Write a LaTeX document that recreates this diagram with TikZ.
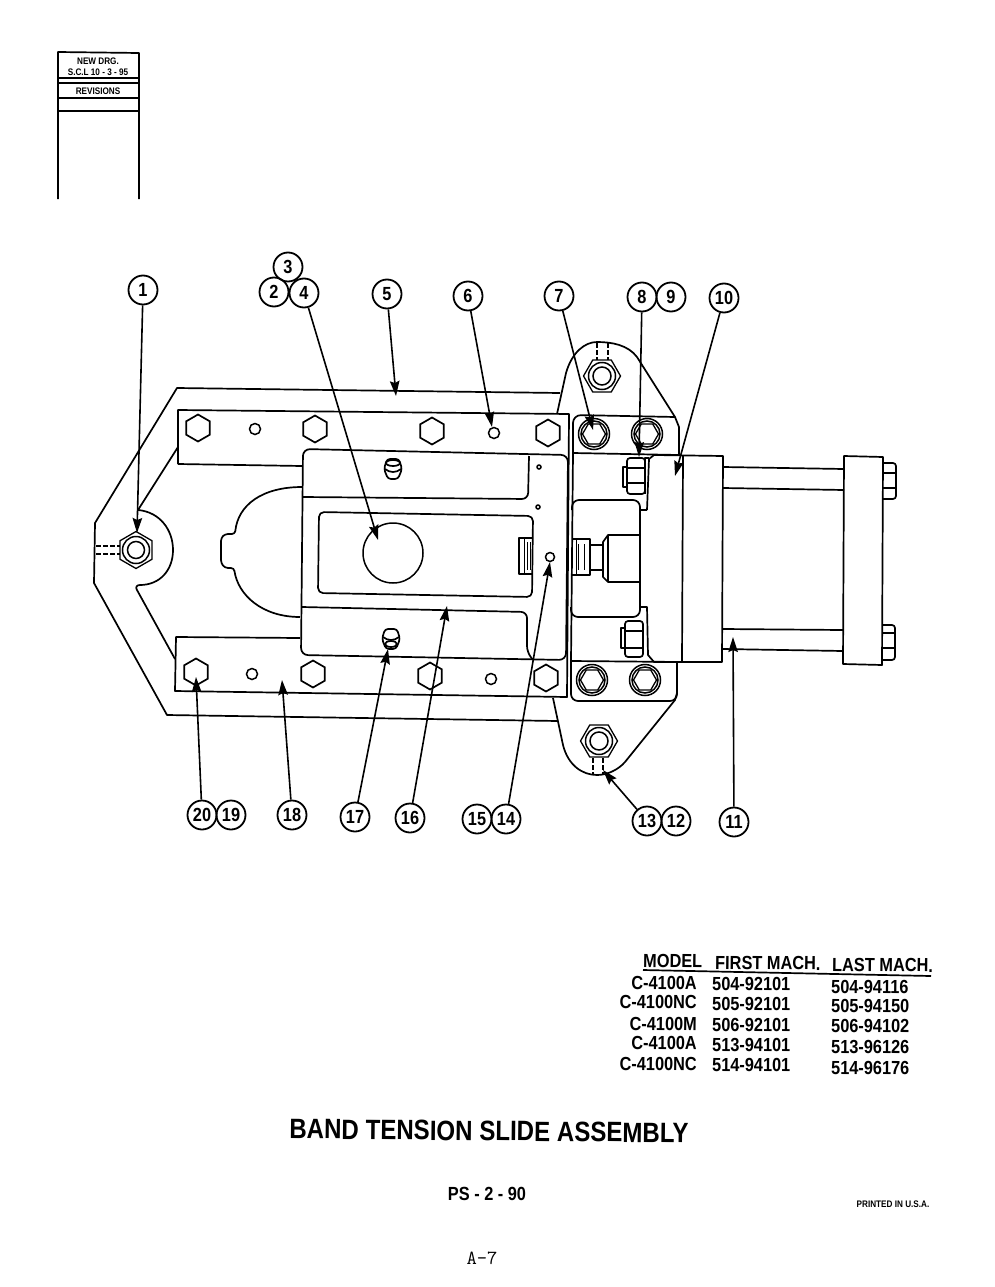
\documentclass[tikz,border=0pt]{standalone}
\usepackage{fontspec}
\setmainfont{Liberation Sans}
\newfontfamily\narrowfont{Liberation Sans}[FakeStretch=0.86]
\usetikzlibrary{shapes.geometric, arrows.meta}

\begin{document}
\begin{tikzpicture}[
    x=1pt, y=-1pt,
    part/.style={line width=1.7pt, line join=round},
    thin part/.style={line width=1pt},
    hexhead/.style={draw, line width=1.7pt, regular polygon, regular polygon sides=6, regular polygon rotate=30, minimum size=27pt, inner sep=0pt},
    sockethex/.style={draw, line width=1.3pt, regular polygon, regular polygon sides=6, minimum size=23pt, inner sep=0pt},
    nuthex/.style={draw, line width=1.3pt, regular polygon, regular polygon sides=6, minimum size=37pt, inner sep=0pt},
    ring/.style={draw, circle, line width=1.5pt, inner sep=0pt},
    callout/.style={draw, circle, line width=1.8pt, minimum size=29pt, inner sep=0pt, font=\narrowfont\bfseries\fontsize{19}{19}\selectfont},
    leader/.style={line width=1.6pt, -{Stealth[length=15pt, width=9.5pt, inset=2pt]}},
    cell/.style={inner sep=0pt, rotate=-0.6, font=\narrowfont\bfseries\fontsize{19}{19}\selectfont},
    small print/.style={inner sep=0pt, font=\narrowfont\bfseries\fontsize{9.5}{10}\selectfont}]

\useasboundingbox (0,0) rectangle (995,1287);

% Revisions block
\draw[part] (58,199) -- (58,52) -- (139,53) -- (139,199);
\draw[part] (58,78) -- (139,78);
\draw[part] (58,83) -- (139,83);
\draw[part] (58,98) -- (139,98);
\draw[part] (58,111) -- (139,111);
\node[small print] (newdrg) at (98,61) {NEW DRG.};
\node[small print] (scl) at (98,72) {S.C.L 10 - 3 - 95};
\node[small print] (revisions) at (98,91) {REVISIONS};

% Slide body
\draw[part] (560,393) -- (177,388) -- (95,523) -- (94,583) -- (167,715) -- (558,721);
\draw[part] (178,447) -- (138,510) .. controls (160,512) and (173,530) .. (173,550)
    .. controls (173,570) and (160,585) .. (140,585) .. controls (137,585) and (135,587) .. (137,590) -- (175,659);
\draw[part] (178,464) -- (178,410) -- (569,414) -- (567,697) -- (175,691) -- (176,637) -- (300,638);
\draw[part] (178,464) -- (302,466);

% Cut-out behind the slide
\draw[part, rounded corners=3pt] (302,487) .. controls (262,487) and (238,505) .. (235,534)
    -- (225,534) -- (221,538) -- (221,563) -- (225,568) -- (234,568)
    .. controls (238,595) and (262,617) .. (300,617);

% Slide
\draw[part, rounded corners=7pt] (303,449) -- (568,455) -- (566,660) -- (301,655) -- cycle;
\draw[part, rounded corners=6pt] (303,497) -- (528,499) -- (529,456);
\draw[part, rounded corners=6pt] (302,607) -- (527,612) -- (527,652) -- (533,660);
\draw[part, rounded corners=5pt] (319,512) -- (533,516) -- (532,597) -- (318,593) -- cycle;
\node[ring, minimum size=60pt] (bore) at (393,553) {};
\draw[part] (532,538) -- (519,538) -- (519,574) -- (532,574);
\draw[thin part] (524,539) -- (524,573);
\draw[thin part] (527,542) -- (527,570);
\draw[thin part] (530,542) -- (530,570);

% Plate bolts and holes
\node[hexhead] (bolta) at (198,428) {};
\node[hexhead] (boltb) at (315,429) {};
\node[hexhead] (boltc) at (432,431) {};
\node[hexhead] (boltd) at (548,433) {};
\node[hexhead] (bolte) at (196,672) {};
\node[hexhead] (boltf) at (313,674) {};
\node[hexhead] (boltg) at (430,676) {};
\node[hexhead] (bolth) at (546,678) {};
\node[ring, minimum size=11pt] (holea) at (255,429) {};
\node[ring, minimum size=11pt] (holeb) at (494,433) {};
\node[ring, minimum size=11pt] (holec) at (252,674) {};
\node[ring, minimum size=11pt] (holed) at (491,679) {};
\node[ring, minimum size=4pt] (pina) at (539,467) {};
\node[ring, minimum size=4pt] (pinb) at (538,507) {};
\node[ring, minimum size=9pt] (pinc) at (550,557) {};

% Grease fittings
\draw[part, rounded corners=3pt] (387,459) -- (399,459) -- (402,469) -- (398,479) -- (388,479) -- (384,469) -- cycle;
\draw[part] (393,463) ellipse [x radius=7pt, y radius=3pt];
\draw[part] (385,469) .. controls (390,473) and (396,473) .. (401,469);
\draw[part, rounded corners=3pt] (385,629) -- (397,629) -- (400,639) -- (396,649) -- (386,649) -- (382,639) -- cycle;
\draw[part] (391,644) ellipse [x radius=6pt, y radius=3pt];
\draw[part] (383,637) .. controls (388,641) and (394,641) .. (399,637);

% Bracket
\draw[part] (557,414) -- (566,373) .. controls (572,352) and (585,342) .. (597,342)
    .. controls (612,342) and (628,345) .. (637,357) -- (675,417) -- (679,427) -- (679,455);
\draw[part] (553,698) -- (563,745) .. controls (568,765) and (582,775) .. (597,775)
    .. controls (607,775) and (618,770) .. (625,762) -- (675,700) -- (677,693) -- (677,662);
\draw[part, rounded corners=8pt] (573,453) -- (573,415) -- (600,415.5);
\draw[part] (600,415.5) -- (675,417);
\draw[part] (573,453) -- (679,455);
\draw[part] (573,453) -- (571,661);
\draw[part, rounded corners=7pt] (571,661) -- (571,701) -- (677,701) -- (677,662);
\draw[part] (571,661) -- (682,662);
\node[nuthex] (nuttop) at (602,376) {};
\node[ring, minimum size=27pt] (nuttopa) at (602,376) {};
\node[ring, minimum size=18pt] (nuttopb) at (602,376) {};
\node[nuthex] (nutbottom) at (599,741) {};
\node[ring, minimum size=27pt] (nutbottoma) at (599,741) {};
\node[ring, minimum size=18pt] (nutbottomb) at (599,741) {};
\node[nuthex, regular polygon rotate=30] (nutleft) at (136,550) {};
\node[ring, minimum size=27pt] (nutlefta) at (136,550) {};
\node[ring, minimum size=17pt] (nutleftb) at (136,550) {};
\draw[part, dash pattern=on 5pt off 2pt] (96,546) -- (120,546);
\draw[part, dash pattern=on 5pt off 2pt] (96,554) -- (120,554);
\draw[part, dash pattern=on 5pt off 2pt] (597,343) -- (597,360);
\draw[part, dash pattern=on 5pt off 2pt] (608,343) -- (608,360);
\draw[part, dash pattern=on 5pt off 2pt] (593,758) -- (593,775);
\draw[part, dash pattern=on 5pt off 2pt] (603,758) -- (603,775);

% Socket head screws
\node[ring, minimum size=31pt] (screwa) at (594,434) {};
\node[ring, minimum size=26pt] (screwaa) at (594,434) {};
\node[sockethex] (screwab) at (594,434) {};
\node[ring, minimum size=31pt] (screwb) at (647,434) {};
\node[ring, minimum size=26pt] (screwba) at (647,434) {};
\node[sockethex] (screwbb) at (647,434) {};
\node[ring, minimum size=31pt] (screwc) at (592,680) {};
\node[ring, minimum size=26pt] (screwca) at (592,680) {};
\node[sockethex] (screwcb) at (592,680) {};
\node[ring, minimum size=31pt] (screwd) at (645,680) {};
\node[ring, minimum size=26pt] (screwda) at (645,680) {};
\node[sockethex] (screwdb) at (645,680) {};

% Cylinder
\draw[part] (647,510) -- (649,459) -- (654,455) -- (723,456) -- (722,662) -- (654,662) -- (648,655) -- (647,607) -- (640,607);
\draw[part] (647,510) -- (640,510);
\draw[part] (683,456) -- (682,662);
\draw[part] (723,467) -- (844,469);
\draw[part] (723,488) -- (844,490);
\draw[part] (723,629) -- (843,630);
\draw[part] (723,649) -- (843,651);
\draw[part] (844,456) -- (883,457) -- (882,665) -- (843,664) -- cycle;
\draw[part, rounded corners=3pt] (883,463) -- (896,463) -- (896,499) -- (883,499);
\draw[part] (883,473) -- (896,473);
\draw[part] (883,488) -- (896,488);
\draw[part, rounded corners=3pt] (882,625) -- (895,625) -- (895,660) -- (882,660);
\draw[part] (882,633) -- (895,633);
\draw[part] (882,648) -- (895,648);

% Cylinder nuts
\draw[part] (649,458) -- (645,458) -- (645,494);
\draw[part, rounded corners=3pt] (627,458) rectangle (645,494);
\draw[part] (627,467) -- (623,467) -- (623,487) -- (627,487);
\draw[part] (627,468) -- (645,468);
\draw[part] (627,483) -- (645,483);
\draw[part, rounded corners=3pt] (625,621) rectangle (643,657);
\draw[part] (625,628) -- (621,628) -- (621,648) -- (625,648);
\draw[part] (625,631) -- (643,631);
\draw[part] (625,648) -- (643,648);

% Piston and rod end
\draw[part, rounded corners=7pt] (572,510) -- (572,500) -- (640,500) -- (640,617) -- (571,617) -- (571,607);
\draw[part] (640,535) -- (608,535) -- (603,542) -- (603,577) -- (608,582) -- (640,582);
\draw[part] (608,535) -- (608,582);
\draw[part] (603,545) -- (590,545);
\draw[part] (603,570) -- (590,570);
\draw[part] (572,539) -- (590,539) -- (590,575) -- (572,575);
\draw[thin part] (576,540) -- (576,574);
\draw[thin part] (578,544) -- (578,570);
\draw[thin part] (584,544) -- (584,570);

% Callouts
\node[callout] (n3) at (288,267) {3};
\node[callout] (n2) at (274,292) {2};
\node[callout] (n4) at (304,293) {4};
\node[callout] (n1) at (143,290) {1};
\node[callout] (n5) at (387,294) {5};
\node[callout] (n6) at (468,296) {6};
\node[callout] (n7) at (559,296) {7};
\node[callout] (n8) at (642,297) {8};
\node[callout] (n9) at (671,297) {9};
\node[callout] (n10) at (724,298) {10};
\node[callout] (n20) at (202,815) {20};
\node[callout] (n19) at (231,815) {19};
\node[callout] (n18) at (292,815) {18};
\node[callout] (n17) at (355,817) {17};
\node[callout] (n16) at (410,818) {16};
\node[callout] (n15) at (477,819) {15};
\node[callout] (n14) at (506,819) {14};
\node[callout] (n13) at (647,821) {13};
\node[callout] (n12) at (676,821) {12};
\node[callout] (n11) at (734,822) {11};

% Leaders
\coordinate (t1) at (137,533);
\coordinate (t4) at (378,540);
\coordinate (t5) at (396,396);
\coordinate (t6) at (492,427);
\coordinate (t7) at (593,430);
\coordinate (t8) at (639,457);
\coordinate (t10) at (675,476);
\coordinate (t20) at (196,677);
\coordinate (t18) at (282,680);
\coordinate (t17) at (388,649);
\coordinate (t16) at (447,606);
\coordinate (t14) at (550,562);
\coordinate (t13) at (603,770);
\coordinate (t11) at (733,637);
\draw[leader] (n1) -- (t1);
\draw[leader] (n4) -- (t4);
\draw[leader] (n5) -- (t5);
\draw[leader] (n6) -- (t6);
\draw[leader] (n7) -- (t7);
\draw[leader] (n8) -- (t8);
\draw[leader] (n10) -- (t10);
\draw[leader] (n20) -- (t20);
\draw[leader] (n18) -- (t18);
\draw[leader] (n17) -- (t17);
\draw[leader] (n16) -- (t16);
\draw[leader] (n14) -- (t14);
\draw[leader] (n13) -- (t13);
\draw[leader] (n11) -- (t11);

% Model table
\node[cell, anchor=base west] (hmodel) at (643,967) {MODEL};
\node[cell, anchor=base west] (hfirst) at (715,969) {FIRST MACH.};
\node[cell, anchor=base west] (hlast) at (832,971) {LAST MACH.};
\draw[part] (643,970) -- (931,976);
\node[cell, anchor=base east] (ma) at (697,990) {C-4100A};
\node[cell, anchor=base east] (mb) at (697,1009) {C-4100NC};
\node[cell, anchor=base east] (mc) at (697,1031) {C-4100M};
\node[cell, anchor=base east] (md) at (697,1050) {C-4100A};
\node[cell, anchor=base east] (me) at (697,1071) {C-4100NC};
\node[cell, anchor=base west] (fa) at (712,990) {504-92101};
\node[cell, anchor=base west] (fb) at (712,1010) {505-92101};
\node[cell, anchor=base west] (fc) at (712,1031) {506-92101};
\node[cell, anchor=base west] (fd) at (712,1051) {513-94101};
\node[cell, anchor=base west] (fe) at (712,1071) {514-94101};
\node[cell, anchor=base west] (la) at (831,993) {504-94116};
\node[cell, anchor=base west] (lb) at (831,1012) {505-94150};
\node[cell, anchor=base west] (lc) at (831,1032) {506-94102};
\node[cell, anchor=base west] (ld) at (831,1053) {513-96126};
\node[cell, anchor=base west] (le) at (831,1074) {514-96176};

% Title and page marks
\node[inner sep=0pt, rotate=-0.6, font=\narrowfont\bfseries\fontsize{28}{28}\selectfont] (title) at (489,1131) {BAND TENSION SLIDE ASSEMBLY};
\node[inner sep=0pt, font=\narrowfont\bfseries\fontsize{19}{19}\selectfont] (pagecode) at (487,1194) {PS - 2 - 90};
\node[small print] (printed) at (893,1204) {PRINTED IN U.S.A.};
\node[inner sep=0pt, font=\ttfamily\fontsize{20}{20}\selectfont] (pagenum) at (482,1258) {A-7};

\end{tikzpicture}
\end{document}
